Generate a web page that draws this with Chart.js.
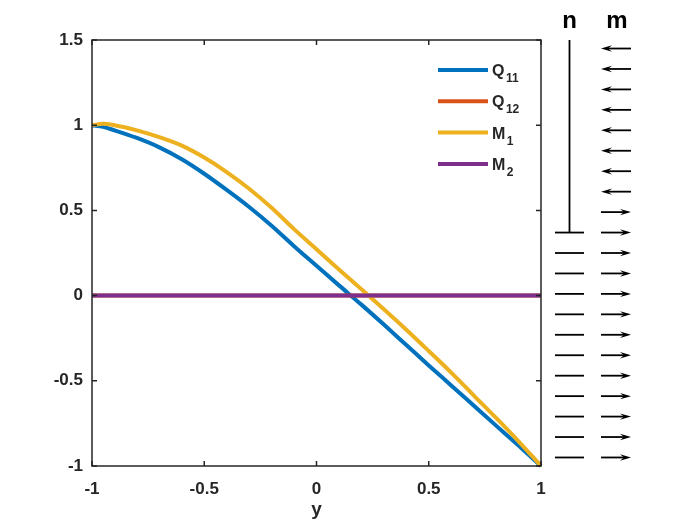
<!DOCTYPE html>
<html>
<head>
<meta charset="utf-8">
<script src="https://cdn.jsdelivr.net/npm/chart.js@4"></script>
<style>
  html, body { margin: 0; padding: 0; background: #fff; }
  #wrap { width: 700px; height: 525px; }
</style>
</head>
<body>
<div id="wrap"><canvas id="chart" width="700" height="525"></canvas></div>
<script>
// values
const xs  = [-1, -0.95, -0.9, -0.8, -0.7, -0.6, -0.5, -0.4, -0.3, -0.2, -0.1, 0, 0.1, 0.2, 0.3, 0.4, 0.5, 0.6, 0.7, 0.8, 0.9, 1];
const q11 = [1.0, 0.99, 0.97, 0.925, 0.87, 0.80, 0.715, 0.62, 0.52, 0.41, 0.29, 0.175, 0.06, -0.053, -0.17, -0.29, -0.41, -0.527, -0.645, -0.763, -0.88, -1.0];
const q12 = [0, 0, 0, 0, 0, 0, 0, 0, 0, 0, 0, 0, 0, 0, 0, 0, 0, 0, 0, 0, 0, 0];
const m1  = [1.0, 1.008, 1.0, 0.97, 0.93, 0.88, 0.81, 0.725, 0.627, 0.515, 0.39, 0.272, 0.153, 0.037, -0.08, -0.20, -0.325, -0.452, -0.585, -0.718, -0.855, -1.0];
const m2  = [0, 0, 0, 0, 0, 0, 0, 0, 0, 0, 0, 0, 0, 0, 0, 0, 0, 0, 0, 0, 0, 0];

const seriesBase = ['Q', 'Q', 'M', 'M'];
const seriesSub  = ['11', '12', '1', '2'];
const seriesColors = ['#0072BD', '#D95319', '#EDB120', '#7E2F8E'];

const xTicks = [-1, -0.5, 0, 0.5, 1];
const yTicks = [-1, -0.5, 0, 0.5, 1, 1.5];

// side panel: row heights (in y units) and what is drawn in each row
const rowY  = [1.45, 1.33, 1.21, 1.09, 0.97, 0.85, 0.73, 0.61, 0.49, 0.37, 0.25, 0.13, 0.01, -0.11, -0.23, -0.35, -0.47, -0.59, -0.71, -0.83, -0.95];
const nBar  = [0, 0, 0, 0, 0, 0, 0, 0, 0, 1, 1, 1, 1, 1, 1, 1, 1, 1, 1, 1, 1];
const mDir  = [-1, -1, -1, -1, -1, -1, -1, -1, 1, 1, 1, 1, 1, 1, 1, 1, 1, 1, 1, 1, 1];
const panelLabels = ['n', 'm'];

const FONT = '"Liberation Sans", Arial, Helvetica, sans-serif';
const AXIS_COLOR = '#262626';

function points(ys) {
    return xs.map((x, i) => ({ x: x, y: ys[i] }));
}

const allSeries = [q11, q12, m1, m2];
const datasets = allSeries.map((ys, i) => ({
    label: seriesBase[i] + seriesSub[i],
    data: points(ys),
    borderColor: seriesColors[i],
    backgroundColor: seriesColors[i],
    borderWidth: 4,
    pointRadius: 0,
    cubicInterpolationMode: 'monotone',
    clip: false,
    order: 4 - i  // later series drawn on top, like MATLAB
}));

// box, inward ticks, legend and the n/m panel
const decorations = {
    id: 'decorations',
    afterDraw(chart) {
        const ctx = chart.ctx;
        const a = chart.chartArea;
        const sx = chart.scales.x, sy = chart.scales.y;
        ctx.save();

        // box and ticks
        ctx.strokeStyle = AXIS_COLOR;
        ctx.lineWidth = 1.5;
        ctx.strokeRect(a.left, a.top, a.right - a.left, a.bottom - a.top);
        ctx.beginPath();
        xTicks.forEach(v => {
            const px = sx.getPixelForValue(v);
            ctx.moveTo(px, a.bottom); ctx.lineTo(px, a.bottom - 5);
            ctx.moveTo(px, a.top); ctx.lineTo(px, a.top + 5);
        });
        yTicks.forEach(v => {
            const py = sy.getPixelForValue(v);
            ctx.moveTo(a.left, py); ctx.lineTo(a.left + 5, py);
            ctx.moveTo(a.right, py); ctx.lineTo(a.right - 5, py);
        });
        ctx.stroke();

        // legend
        seriesBase.forEach((base, i) => {
            const ly = a.top + 30 + i * 31.3;
            ctx.strokeStyle = seriesColors[i];
            ctx.lineWidth = 4;
            ctx.beginPath();
            ctx.moveTo(a.right - 103, ly);
            ctx.lineTo(a.right - 53, ly);
            ctx.stroke();
            ctx.fillStyle = AXIS_COLOR;
            ctx.textAlign = 'left';
            ctx.textBaseline = 'alphabetic';
            ctx.font = 'bold 16px ' + FONT;
            const tx = a.right - 49;
            ctx.fillText(base, tx, ly + 6);
            const w = ctx.measureText(base).width;
            ctx.font = 'bold 12px ' + FONT;
            ctx.fillText(seriesSub[i], tx + w + 1.5, ly + 12);
        });

        // n / m panel
        const nx = a.right + 28.5;
        const mx0 = a.right + 60, mx1 = a.right + 90;
        ctx.fillStyle = '#000';
        ctx.font = 'bold 24px ' + FONT;
        ctx.textAlign = 'center';
        ctx.textBaseline = 'alphabetic';
        ctx.fillText(panelLabels[0], nx, 28);
        ctx.fillText(panelLabels[1], (mx0 + mx1) / 2 + 1, 28);

        ctx.strokeStyle = '#000';
        ctx.lineWidth = 1.8;
        const firstBar = nBar.indexOf(1);
        ctx.beginPath();
        ctx.moveTo(nx, a.top);
        ctx.lineTo(nx, sy.getPixelForValue(rowY[firstBar]));
        ctx.stroke();

        rowY.forEach((v, i) => {
            const py = sy.getPixelForValue(v);
            if (nBar[i]) {
                ctx.beginPath();
                ctx.moveTo(a.right + 14, py);
                ctx.lineTo(a.right + 43, py);
                ctx.stroke();
            }
            // arrow
            const tip = mDir[i] > 0 ? mx1 : mx0;
            const tail = mDir[i] > 0 ? mx0 : mx1;
            const d = mDir[i] > 0 ? -1 : 1;
            ctx.beginPath();
            ctx.moveTo(tail, py);
            ctx.lineTo(tip + d * 6, py);
            ctx.stroke();
            ctx.beginPath();
            ctx.moveTo(tip, py);
            ctx.lineTo(tip + d * 11, py - 3.2);
            ctx.lineTo(tip + d * 7, py);
            ctx.lineTo(tip + d * 11, py + 3.2);
            ctx.closePath();
            ctx.fill();
        });

        ctx.restore();
    }
};

const ctx = document.getElementById('chart').getContext('2d');
const chart = new Chart(ctx, {
    type: 'line',
    data: { datasets: datasets },
    options: {
        responsive: false,
        animation: false,
        devicePixelRatio: 1,
        layout: { padding: { top: 40, right: 159, left: 0, bottom: 0 } },
        plugins: {
            legend: { display: false },
            tooltip: { enabled: false }
        },
        scales: {
            x: {
                type: 'linear',
                min: -1,
                max: 1,
                afterBuildTicks: s => { s.ticks = xTicks.map(v => ({ value: v })); },
                afterFit: s => { s.height = 59; },
                grid: { display: false, drawTicks: false },
                border: { display: false },
                ticks: {
                    color: AXIS_COLOR,
                    padding: 13,
                    maxRotation: 0,
                    callback: v => String(v),
                    font: { family: FONT, size: 17, weight: 'bold' }
                },
                title: {
                    display: true,
                    text: 'y',
                    color: AXIS_COLOR,
                    padding: { top: 4, bottom: 4 },
                    font: { family: FONT, size: 19, weight: 'bold' }
                }
            },
            y: {
                type: 'linear',
                min: -1,
                max: 1.5,
                afterBuildTicks: s => { s.ticks = yTicks.map(v => ({ value: v })); },
                afterFit: s => { s.width = 92; },
                grid: { display: false, drawTicks: false },
                border: { display: false },
                ticks: {
                    color: AXIS_COLOR,
                    padding: 9,
                    callback: v => String(v),
                    font: { family: FONT, size: 17, weight: 'bold' }
                }
            }
        }
    },
    plugins: [decorations]
});
</script>
</body>
</html>
